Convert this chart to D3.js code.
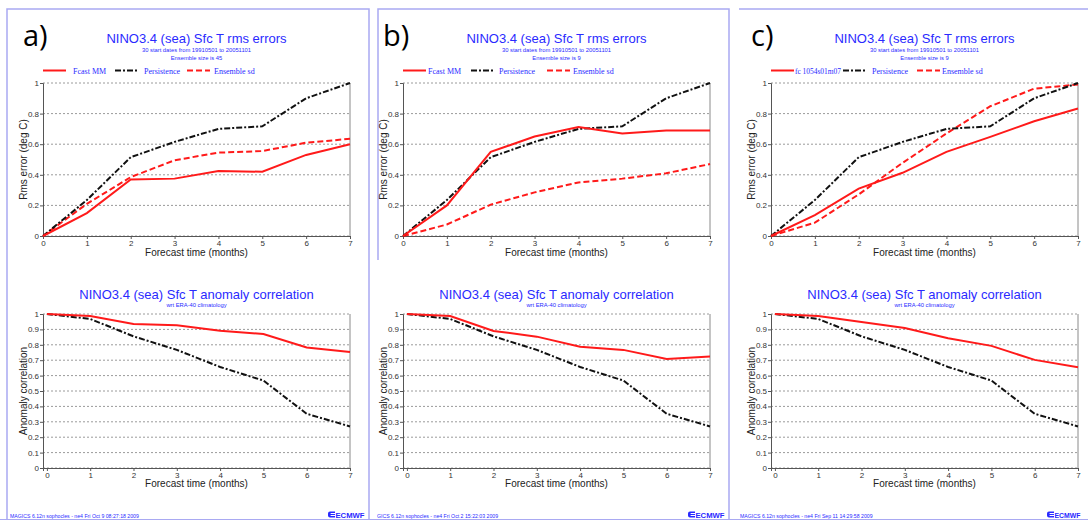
<!DOCTYPE html>
<html><head><meta charset="utf-8">
<script src="https://cdn.jsdelivr.net/npm/d3@7"></script>
<style>
html,body{margin:0;padding:0;background:#fff;}
svg{display:block;}
</style></head>
<body>
<svg id="chart" width="1088" height="520"></svg>
<script>
// ---------------- data ----------------
const months = [0, 1, 2, 3, 4, 5, 6, 7];
const rmsTicks = [0, 0.2, 0.4, 0.6, 0.8, 1];
const accTicks = [0, 0.1, 0.2, 0.3, 0.4, 0.5, 0.6, 0.7, 0.8, 0.9, 1];

const persistRms = [0, 0.235, 0.515, 0.615, 0.70, 0.717, 0.90, 1.0];
const persistAcc = [1.0, 0.968, 0.855, 0.767, 0.656, 0.568, 0.352, 0.27];

const aFcastRms  = [0, 0.15, 0.37, 0.375, 0.425, 0.42, 0.53, 0.60];
const aSpreadRms = [0, 0.21, 0.385, 0.495, 0.545, 0.555, 0.61, 0.635];
const aFcastAcc  = [1.0, 0.987, 0.935, 0.927, 0.892, 0.870, 0.782, 0.754];

const bFcastRms  = [0, 0.20, 0.55, 0.65, 0.713, 0.67, 0.69, 0.69];
const bSpreadRms = [0, 0.075, 0.205, 0.285, 0.35, 0.375, 0.41, 0.47];
const bFcastAcc  = [1.0, 0.987, 0.89, 0.853, 0.788, 0.767, 0.708, 0.724];

const cFcastRms  = [0, 0.137, 0.31, 0.413, 0.55, 0.648, 0.75, 0.833];
const cSpreadRms = [0, 0.087, 0.272, 0.478, 0.67, 0.848, 0.963, 0.99];
const cFcastAcc  = [1.0, 0.987, 0.948, 0.909, 0.842, 0.793, 0.702, 0.654];

const panelLabels = ["a)", "b)", "c)"];
const rmsTitle = "NINO3.4 (sea) Sfc T rms errors";
const rmsSub1 = "30 start dates from 19910501  to 20051101";
const rmsSub2 = ["Ensemble size is 45", "Ensemble size is  9", "Ensemble size is  9"];
const accTitle = "NINO3.4 (sea) Sfc T anomaly correlation";
const accSub = "wrt ERA-40 climatology";
const fcastNames = ["Fcast MM", "Fcast MM", "fc 1054s01m07"];
const persistName = "Persistence";
const spreadName = "Ensemble sd";
const xTitle = "Forecast time (months)";
const rmsYTitle = "Rms error (deg C)";
const accYTitle = "Anomaly correlation";
const footers = ["MAGICS 6.12n sophocles - ne4 Fri Oct  9 08:27:18 2009",
                 "GICS 6.12n sophocles - ne4 Fri Oct  2 15:22:03 2009",
                 "MAGICS 6.12n sophocles - ne4 Fri Sep 11 14:29:58 2009"];

// ---------------- layout ----------------
const svg = d3.select("#chart");
const BLUE = "#2a2aff";
const FRAME = "#a9a9f2";
const plotLefts = [43, 403, 771];
const plotW = 307;
const top1 = 83, bot1 = 236, top2 = 314, bot2 = 468;
const fcastRms = [aFcastRms, bFcastRms, cFcastRms];
const spreadRms = [aSpreadRms, bSpreadRms, cSpreadRms];
const fcastAcc = [aFcastAcc, bFcastAcc, cFcastAcc];
const legendLayout = [
  [[0, 30], [72, 101], [144, 171]],
  [[0, 25], [68, 96], [144, 170]],
  [[0, 24], [72, 101], [146, 171]]
];

const frames = svg.append("g").attr("fill", "none").attr("stroke", FRAME).attr("stroke-width", 1.5);
frames.append("path").attr("d", "M7,520 V9 H369 V520");
frames.append("path").attr("d", "M378,260 V9 H729 V520");
frames.append("path").attr("d", "M739,9 H1088");
frames.append("path").attr("d", "M0,519.5 H1088").attr("stroke-width", 1);

const sans = "'Liberation Sans', Arial, sans-serif";
const serif = "'Liberation Serif', 'Times New Roman', serif";

function drawPlot(g, x, y, ticks, series) {
  g.append("g").selectAll("line").data(ticks).join("line")
    .attr("x1", x.range()[0]).attr("x2", x.range()[1])
    .attr("y1", d => y(d)).attr("y2", d => y(d))
    .attr("stroke", "#9a9a9a").attr("stroke-width", 1).attr("stroke-dasharray", "2,2");
  g.append("line").attr("x1", x.range()[1]).attr("x2", x.range()[1])
    .attr("y1", y.range()[0]).attr("y2", y.range()[1]).attr("stroke", "#8a8a8a");
  const yAx = g.append("g").attr("transform", `translate(${x.range()[0]},0)`)
    .call(d3.axisLeft(y).tickValues(ticks).tickFormat(d3.format("~g")).tickSize(3).tickPadding(1));
  const xAx = g.append("g").attr("transform", `translate(0,${y.range()[0]})`)
    .call(d3.axisBottom(x).tickValues(months).tickFormat(d3.format("d")).tickSize(3).tickPadding(1));
  [yAx, xAx].forEach(a => {
    a.select(".domain").attr("stroke", "#555");
    a.selectAll(".tick line").attr("stroke", "#555");
    a.selectAll("text").attr("font-family", sans).attr("font-size", 8).attr("fill", "#333");
  });
  series.forEach(s => {
    g.append("path").datum(s.values)
      .attr("fill", "none").attr("stroke", s.color).attr("stroke-width", 2)
      .attr("stroke-dasharray", s.dash || null)
      .attr("d", d3.line().x((d, i) => x(months[i])).y(d => y(d)));
  });
}

for (let p = 0; p < 3; p++) {
  const L = plotLefts[p], R = L + plotW, cx = (L + R) / 2;
  const g = svg.append("g");

  g.append("text").attr("x", L - 20).attr("y", 46).text(panelLabels[p])
    .attr("font-family", "'Open Sans', 'DejaVu Sans', sans-serif").attr("font-size", 29).attr("fill", "#000");

  g.append("text").attr("x", cx).attr("y", 43).attr("text-anchor", "middle")
    .attr("font-family", sans).attr("font-size", 13).attr("fill", BLUE).text(rmsTitle);
  g.append("text").attr("x", cx).attr("y", 52).attr("text-anchor", "middle")
    .attr("font-family", sans).attr("font-size", 5.8).attr("fill", BLUE).text(rmsSub1);
  g.append("text").attr("x", cx).attr("y", 60).attr("text-anchor", "middle")
    .attr("font-family", sans).attr("font-size", 5.8).attr("fill", BLUE).text(rmsSub2[p]);

  const leg = [
    {name: fcastNames[p], color: "#ff1a1a", dash: null},
    {name: persistName, color: "#111", dash: "6,2,2,2"},
    {name: spreadName, color: "#ff1a1a", dash: "6,3"}
  ];
  leg.forEach((e, i) => {
    const [lo, to] = legendLayout[p][i];
    const lx = L + lo;
    g.append("line").attr("x1", lx).attr("x2", lx + 23).attr("y1", 70.5).attr("y2", 70.5)
      .attr("stroke", e.color).attr("stroke-width", 2).attr("stroke-dasharray", e.dash);
    const t = g.append("text").attr("x", L + to).attr("y", 73.5)
      .attr("font-family", serif).attr("font-size", 8).attr("fill", BLUE).text(e.name);
    if (p === 2 && i === 0) t.attr("textLength", 46).attr("lengthAdjust", "spacingAndGlyphs");
  });

  const x1 = d3.scaleLinear().domain([0, 7]).range([L, R]);
  const y1 = d3.scaleLinear().domain([0, 1]).range([bot1, top1]);
  drawPlot(g.append("g"), x1, y1, rmsTicks, [
    {values: spreadRms[p], color: "#ff1a1a", dash: "6,3"},
    {values: persistRms, color: "#111", dash: "6,2,2,2"},
    {values: fcastRms[p], color: "#ff1a1a"}
  ]);
  g.append("text").attr("x", cx).attr("y", 256).attr("text-anchor", "middle")
    .attr("font-family", sans).attr("font-size", 10).attr("fill", "#222").text(xTitle);
  g.append("text").attr("transform", `translate(${L - 16},${(top1 + bot1) / 2}) rotate(-90)`)
    .attr("text-anchor", "middle").attr("font-family", sans).attr("font-size", 10)
    .attr("fill", "#222").text(rmsYTitle);

  g.append("text").attr("x", cx).attr("y", 299).attr("text-anchor", "middle")
    .attr("font-family", sans).attr("font-size", 13).attr("fill", BLUE).text(accTitle);
  g.append("text").attr("x", cx).attr("y", 306.5).attr("text-anchor", "middle")
    .attr("font-family", sans).attr("font-size", 5.8).attr("fill", BLUE).text(accSub);

  const x2 = d3.scaleLinear().domain([-0.09, 7]).range([L, R]);
  const y2 = d3.scaleLinear().domain([0, 1]).range([bot2, top2]);
  drawPlot(g.append("g"), x2, y2, accTicks, [
    {values: persistAcc, color: "#111", dash: "6,2,2,2"},
    {values: fcastAcc[p], color: "#ff1a1a"}
  ]);
  g.append("text").attr("x", cx).attr("y", 487).attr("text-anchor", "middle")
    .attr("font-family", sans).attr("font-size", 10).attr("fill", "#222").text(xTitle);
  g.append("text").attr("transform", `translate(${L - 16},${(top2 + bot2) / 2}) rotate(-90)`)
    .attr("text-anchor", "middle").attr("font-family", sans).attr("font-size", 10)
    .attr("fill", "#222").text(accYTitle);

  g.append("text").attr("x", [10, 377, 740][p]).attr("y", 518)
    .attr("font-family", sans).attr("font-size", 5.2).attr("fill", BLUE).text(footers[p]);
  const lgx = [328, 688, 1047][p];
  const logoFs = p === 2 ? 7 : 8;
  const logoW = p === 2 ? 26 : 29;
  const logo = g.append("g").attr("transform", `translate(${lgx},511.5)`);
  logo.append("path").attr("d", "M7,0 H2 Q0,0 0,2 V4 Q0,6 2,6 H7 V4.6 H2.6 V3.6 H7 V2.4 H2.6 V1.4 H7 Z")
    .attr("fill", BLUE);
  logo.append("text").attr("x", 7.5).attr("y", 6).attr("font-family", sans).attr("font-weight", "bold")
    .attr("font-size", logoFs).attr("fill", BLUE).attr("textLength", logoW).attr("lengthAdjust", "spacingAndGlyphs").text("ECMWF");
}
</script>
</body></html>
